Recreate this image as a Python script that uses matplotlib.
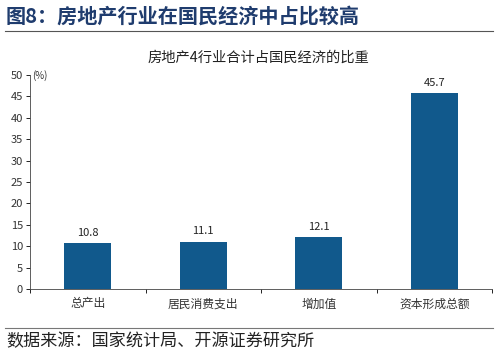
import matplotlib
matplotlib.use("Agg")
import matplotlib.pyplot as plt
from matplotlib.lines import Line2D

plt.rcParams['font.family'] = ['Noto Sans CJK SC', 'DejaVu Sans']

# 数据
categories = ["总产出", "居民消费支出", "增加值", "资本形成总额"]
values = [10.8, 11.1, 12.1, 45.7]
yticks = [0, 5, 10, 15, 20, 25, 30, 35, 40, 45, 50]

bar_color = "#11598C"
head_color = "#1F3C6E"

fig = plt.figure(figsize=(5, 3.54), dpi=100)
ax = fig.add_axes([0.06, 0.1836, 0.924, 0.6044])

x = list(range(len(categories)))
ax.bar(x, values, width=0.41, color=bar_color, zorder=2)
for xi, v in zip(x, values):
    ax.text(xi, v + 1.2, "%.1f" % v, ha="center", va="bottom", fontsize=8, color="#222222")

ax.set_xlim(-0.5, len(categories) - 0.5)
ax.set_ylim(0, 50)
ax.set_yticks(yticks)
ax.set_yticklabels([str(t) for t in yticks], fontsize=8, color="#333333")
ax.set_xticks(x)
ax.set_xticklabels(categories, fontsize=8.5, color="#333333")
ax.tick_params(axis="x", length=0, pad=6)
ax.tick_params(axis="y", length=3, width=0.6, direction="out", pad=2)
# x轴分隔刻度
ax.set_xticks([i + 0.5 for i in range(-1, len(categories))], minor=True)
ax.tick_params(axis="x", which="minor", length=3, width=0.6, direction="out")

ax.spines['top'].set_visible(False)
ax.spines['right'].set_visible(False)
ax.spines['left'].set_linewidth(0.6)
ax.spines['bottom'].set_linewidth(0.6)
ax.spines['left'].set_color("#444444")
ax.spines['bottom'].set_color("#444444")

ax.text(0.005, 50, "(%)", fontsize=7, va="center", ha="left",
        transform=ax.get_yaxis_transform(), color="#333333")

# 标题与来源
fig.text(0.012, 0.955, "图8：房地产行业在国民经济中占比较高", fontsize=14.5,
         fontweight="bold", color=head_color, va="center", ha="left")
fig.add_artist(Line2D([0.01, 0.985], [0.912, 0.912], color="#555555", lw=0.8))
fig.text(0.517, 0.838, "房地产4行业合计占国民经济的比重", fontsize=10.3,
         color="#222222", va="center", ha="center")
fig.add_artist(Line2D([0.01, 0.985], [0.074, 0.074], color="#777777", lw=0.8))
fig.text(0.012, 0.035, "数据来源：国家统计局、开源证券研究所", fontsize=12.3,
         color="#222222", va="center", ha="left")

fig.savefig("out.png", dpi=100)
